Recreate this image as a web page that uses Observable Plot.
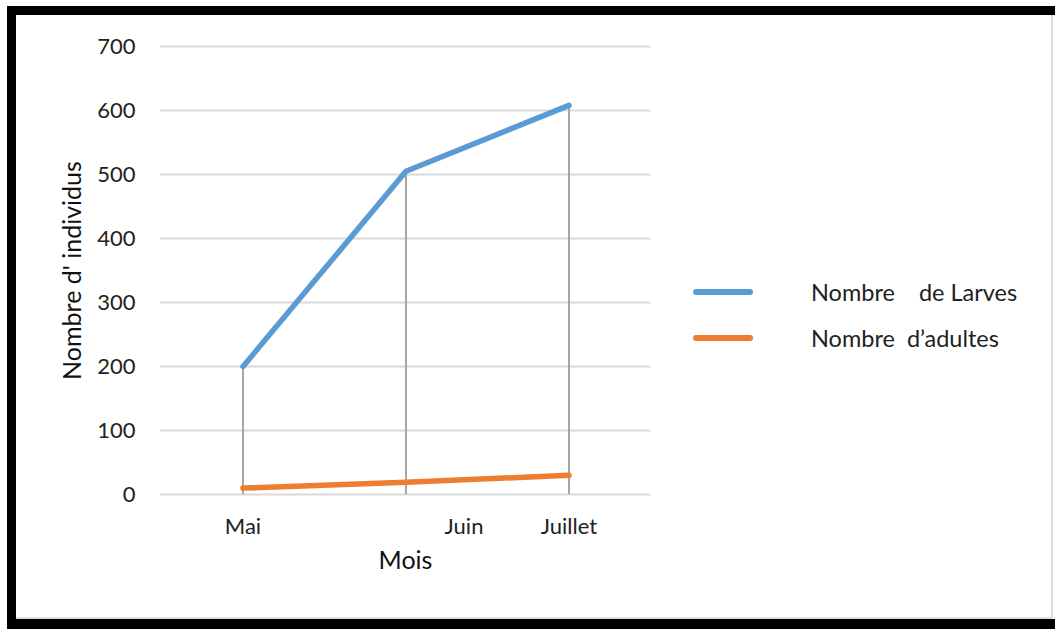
<!DOCTYPE html>
<html>
<head>
<meta charset="utf-8">
<script src="https://cdn.jsdelivr.net/npm/d3@7"></script>
<script src="https://cdn.jsdelivr.net/npm/@observablehq/plot@0.6"></script>
<style>
  html, body { margin: 0; padding: 0; background: #fff; overflow: hidden; }
  #wrap { position: relative; width: 1055px; height: 629px; overflow: hidden; background: #fff; font-family: Lato, "Open Sans", sans-serif; }
  #frameL { position: absolute; left: 7px; top: 6px; width: 9px; height: 623px; background: #000; }
  #frameT { position: absolute; left: 7px; top: 6px; width: 1048px; height: 9px; background: #000; }
  #frameB { position: absolute; left: 7px; top: 619px; width: 1048px; height: 10px; background: #000; }
  #inner { position: absolute; left: 16px; top: 15px; width: 1035px; height: 602px; border-right: 2px solid #dcdcdc; border-bottom: 2px solid #dcdcdc; }
  #chart { position: absolute; left: 0; top: 0; }
  .leg { position: absolute; display: flex; align-items: center; font-size: 23.5px; color: #222; white-space: pre; }
  .leg .sw { width: 60px; height: 6px; border-radius: 3px; margin-right: 58px; }
</style>
</head>
<body>
<div id="wrap">
  <div id="inner"></div>
  <div id="chart"></div>
  <div id="frameL"></div><div id="frameT"></div><div id="frameB"></div>
  <div id="legend"></div>
</div>
<script>
const months = ["Mai", "Juin", "Juillet"];
const larves = [200, 505, 608];
const adultes = [10, 19, 30];
const seriesNames = ["Nombre    de Larves", "Nombre  d’adultes"];
const seriesColors = ["#5b9bd5", "#ed7d31"];
const yTicks = [0, 100, 200, 300, 400, 500, 600, 700];

const rows = [];
months.forEach((m, i) => {
  rows.push({mois: m, value: larves[i], serie: seriesNames[0]});
  rows.push({mois: m, value: adultes[i], serie: seriesNames[1]});
});
const dropRows = months.map((m, i) => ({mois: m, value: larves[i]}));

const plot = Plot.plot({
  width: 1055,
  height: 629,
  marginLeft: 160,
  marginRight: 405,
  marginTop: 46,
  marginBottom: 135,
  style: {fontFamily: "Lato, 'Open Sans', sans-serif", fontSize: "22px", color: "#222", background: "transparent"},
  x: {domain: months, type: "band", padding: 0, label: null},
  y: {domain: [0, 700], label: null},
  color: {domain: seriesNames, range: seriesColors},
  marks: [
    Plot.gridY(yTicks, {stroke: "#d9d9d9", strokeOpacity: 1, strokeWidth: 2}),
    Plot.ruleX(dropRows, {x: "mois", y1: 0, y2: "value", stroke: "#a6a6a6", strokeWidth: 2}),
    Plot.line(rows, {x: "mois", y: "value", z: "serie", stroke: "serie", strokeWidth: 5.5, strokeLinecap: "round", strokeLinejoin: "round"}),
    Plot.axisY(yTicks, {tickSize: 0, tickPadding: 25, fontSize: 22, label: null}),
    Plot.axisX(months.filter(m => m !== "Juin"), {tickSize: 0, tickPadding: 24, fontSize: 22, label: null}),
    Plot.axisX(["Juin"], {tickSize: 0, tickPadding: 24, dx: 58, fontSize: 22, label: null}),
    Plot.text(["Nombre d' individus"], {frameAnchor: "left", textAnchor: "middle", rotate: -90, dx: -88, fontSize: 25, fill: "#111"}),
    Plot.text(["Mois"], {frameAnchor: "bottom", textAnchor: "middle", dy: 74, fontSize: 25, fill: "#111"})
  ]
});
document.getElementById("chart").appendChild(plot);

const legend = document.getElementById("legend");
seriesNames.forEach((name, i) => {
  const d = document.createElement("div");
  d.className = "leg";
  d.style.left = "693px";
  d.style.top = (278 + i * 46) + "px";
  const sw = document.createElement("div");
  sw.className = "sw";
  sw.style.background = seriesColors[i];
  const t = document.createElement("span");
  t.textContent = name;
  d.appendChild(sw); d.appendChild(t);
  legend.appendChild(d);
});
</script>
</body>
</html>
